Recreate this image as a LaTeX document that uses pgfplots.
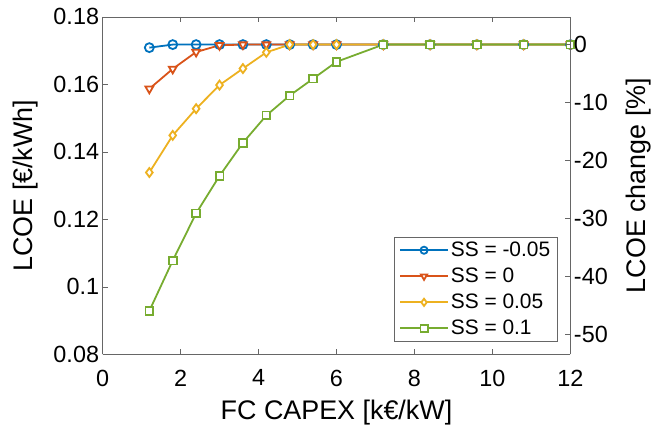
\documentclass[border=0pt]{standalone}
\usepackage{fontspec}
\setmainfont{Liberation Sans}
\usepackage{pgfplots}
\pgfplotsset{compat=1.18}
\definecolor{c1}{rgb}{0,0.447,0.741}
\definecolor{c2}{rgb}{0.85,0.325,0.098}
\definecolor{c3}{rgb}{0.929,0.694,0.125}
\definecolor{c4}{rgb}{0.466,0.674,0.188}
\begin{document}
\begin{tikzpicture}
\pgfplotsset{
  every axis/.append style={
    scale only axis, width=470pt, height=339pt,
    xmin=0, xmax=12,
    /pgf/number format/assume math mode=true,
    tick label style={font=\fontsize{23.5}{27}\selectfont},
    label style={font=\fontsize{27}{31}\selectfont},
    axis line style={black!60, line width=0.6pt},
    tick style={black!60, line width=0.6pt},
    major tick length=5pt, tick align=inside,
  },
  myplot/.style={line width=1.8pt, mark size=4.5pt},
}
\begin{axis}[name=main,
  axis y line*=left,
  ymin=0.08, ymax=0.18,
  ytick={0.08,0.1,0.12,0.14,0.16,0.18},
  yticklabel style={/pgf/number format/fixed,/pgf/number format/precision=2},
  xtick={0,2,4,6,8,10,12},
  xticklabel style={yshift=-12pt},
  xlabel={FC CAPEX [k€/kW]},
  ylabel={LCOE [€/kWh]},
  xlabel style={at={(axis description cs:0.5,0)}, anchor=center, yshift=-58pt},
  ylabel style={at={(axis description cs:0,0.5)}, anchor=center, yshift=77pt},
  clip=false,
  legend style={at={(0.972,0.038)}, anchor=south east, draw=black!60,
    font=\fontsize{21}{25}\selectfont, cells={anchor=west}, inner xsep=5pt, inner ysep=3pt,
    row sep=6pt},
  legend image code/.code={
    \draw[mark=none, line width=1.8pt] (0pt,0pt) -- (48pt,0pt);
    \draw[line width=1.8pt, mark size=3.6pt] plot coordinates {(24pt,0pt)};
  },
]
\addplot[c1, myplot, mark=o, mark options={solid, fill=white, line width=1.8pt}] coordinates {
(1.2,0.1709)(1.8,0.1718)(2.4,0.1718)(3.0,0.1718)(3.6,0.1718)(4.2,0.1718)(4.8,0.1718)(5.4,0.1718)(6.0,0.1718)(7.2,0.1718)(8.4,0.1718)(9.6,0.1718)(10.8,0.1718)(12,0.1718)};
\addlegendentry{SS = -0.05}
\addplot[c2, myplot, mark=triangle*, mark options={solid, rotate=180, fill=white, line width=1.8pt}] coordinates {
(1.2,0.1587)(1.8,0.1646)(2.4,0.1696)(3.0,0.1716)(3.6,0.1718)(4.2,0.1718)(4.8,0.1718)(5.4,0.1718)(6.0,0.1718)(7.2,0.1718)(8.4,0.1718)(9.6,0.1718)(10.8,0.1718)(12,0.1718)};
\addlegendentry{SS = 0}
\addplot[c3, myplot, mark=diamond*, mark options={solid, fill=white, line width=1.8pt}] coordinates {
(1.2,0.1339)(1.8,0.1449)(2.4,0.1528)(3.0,0.1598)(3.6,0.1647)(4.2,0.1695)(4.8,0.1718)(5.4,0.1718)(6.0,0.1718)(7.2,0.1718)(8.4,0.1718)(9.6,0.1718)(10.8,0.1718)(12,0.1718)};
\addlegendentry{SS = 0.05}
\addplot[c4, myplot, mark=square*, mark size=3.9pt, mark options={solid, fill=white, line width=1.8pt}] coordinates {
(1.2,0.0929)(1.8,0.1078)(2.4,0.1218)(3.0,0.1329)(3.6,0.1427)(4.2,0.1508)(4.8,0.1567)(5.4,0.1617)(6.0,0.1667)(7.2,0.1718)(8.4,0.1718)(9.6,0.1718)(10.8,0.1718)(12,0.1718)};
\addlegendentry{SS = 0.1}
\end{axis}
\begin{axis}[
  axis y line*=right, axis x line=none,
  ymin=-53.43, ymax=4.77,
  ytick={-50,-40,-30,-20,-10,0},
  yticklabels={-50,-40,-30,-20,-10,0},
  ylabel={LCOE change [\%]},
  ylabel style={at={(axis description cs:1,0.5)}, anchor=center, yshift=-68pt},
]
\end{axis}
\path ([xshift=-103pt,yshift=-75pt]main.south west) rectangle ([xshift=81pt,yshift=17pt]main.north east);
\end{tikzpicture}
\end{document}
